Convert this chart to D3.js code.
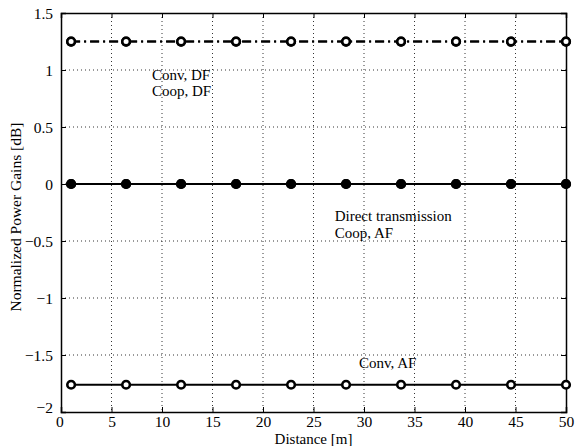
<!DOCTYPE html>
<html lang="en">
<head>
<meta charset="utf-8"/>
<title>Normalized Power Gains</title>
<script src="https://cdnjs.cloudflare.com/ajax/libs/d3/7.8.5/d3.min.js"></script>
<style>
  body { margin: 0; background: #fff; }
  svg text { font-family: "Liberation Serif", "Times New Roman", serif; fill: #000; }
  .grid line { stroke: #000; stroke-width: 0.8px; stroke-dasharray: 1,3; }
</style>
</head>
<body>
<div class="viz"></div>
<script>
// data
var distances = [1, 6.444, 11.889, 17.333, 22.778, 28.222, 33.667, 39.111, 44.556, 50];
var convDF = [1.249, 1.249, 1.249, 1.249, 1.249, 1.249, 1.249, 1.249, 1.249, 1.249];
var coopDF = [1.249, 1.249, 1.249, 1.249, 1.249, 1.249, 1.249, 1.249, 1.249, 1.249];
var direct = [0, 0, 0, 0, 0, 0, 0, 0, 0, 0];
var coopAF = [0, 0, 0, 0, 0, 0, 0, 0, 0, 0];
var convAF = [-1.761, -1.761, -1.761, -1.761, -1.761, -1.761, -1.761, -1.761, -1.761, -1.761];
var xTicks = [0, 5, 10, 15, 20, 25, 30, 35, 40, 45, 50];
var yTicks = [-2, -1.5, -1, -0.5, 0, 0.5, 1, 1.5];

var width = 575, height = 446;
var margin = {top: 13, right: 9, bottom: 34, left: 61};
var w = width - margin.left - margin.right,
    h = height - margin.top - margin.bottom;

var svg = d3.select('.viz').append('svg')
    .attr('width', width)
    .attr('height', height);

var x = d3.scaleLinear().domain([0, 50]).range([0, w]);
var y = d3.scaleLinear().domain([-2, 1.5]).range([h, 0]);

var g = svg.append('g')
    .attr('transform', 'translate(' + margin.left + ',' + margin.top + ')');

// dotted grid
var grid = g.append('g').attr('class', 'grid');
grid.selectAll('.gx').data(xTicks.slice(1, -1)).enter().append('line')
    .attr('x1', d => x(d)).attr('x2', d => x(d))
    .attr('y1', 0).attr('y2', h);
grid.selectAll('.gy').data(yTicks.slice(1, -1)).enter().append('line')
    .attr('x1', 0).attr('x2', w)
    .attr('y1', d => y(d)).attr('y2', d => y(d));

function fmt(d) { return d < 0 ? '\u2212' + Math.abs(d) : '' + d; }

// axes, ticks inward on all sides
var xAxis = g.append('g').attr('transform', 'translate(0,' + h + ')')
    .call(d3.axisBottom(x).tickValues(xTicks).tickSize(-5).tickPadding(4).tickFormat(fmt));
var xTop = g.append('g')
    .call(d3.axisTop(x).tickValues(xTicks).tickSize(-5).tickFormat(''));
var yAxis = g.append('g')
    .call(d3.axisLeft(y).tickValues(yTicks).tickSize(-5).tickPadding(8).tickFormat(fmt));
var yRight = g.append('g').attr('transform', 'translate(' + w + ',0)')
    .call(d3.axisRight(y).tickValues(yTicks).tickSize(-5).tickFormat(''));

[xAxis, xTop, yAxis, yRight].forEach(function(a) {
    a.attr('font-family', '"Liberation Serif", "Times New Roman", serif')
     .attr('font-size', 15.5);
    a.select('.domain').attr('stroke', '#000').attr('stroke-width', 1.5);
    a.selectAll('.tick line').attr('stroke', '#000').attr('stroke-width', 1);
});
yAxis.selectAll('.tick text').attr('dy', '0.33em');
// matlab style corner labels
yAxis.selectAll('.tick').filter(d => d === -2).select('text').attr('dy', '0.05em');
xAxis.selectAll('.tick').filter(d => d === 0).select('text').attr('dx', '-0.1em');

var line = d3.line().x(d => x(d[0])).y(d => y(d[1]));

var series = [
    {vals: convAF, dash: null, fill: '#fff'},
    {vals: coopAF, dash: '7,4', fill: '#000'},
    {vals: direct, dash: null, fill: '#000'},
    {vals: coopDF, dash: '9,4,2,4', fill: '#fff'},
    {vals: convDF, dash: '9,4,2,4', fill: '#fff'}
];

series.forEach(function(s) {
    var pts = distances.map((d, i) => [d, s.vals[i]]);
    g.append('path')
        .datum(pts)
        .attr('d', line)
        .attr('fill', 'none')
        .attr('stroke', '#000')
        .attr('stroke-width', 2)
        .attr('stroke-dasharray', s.dash);
    g.selectAll(null).data(pts).enter().append('circle')
        .attr('cx', d => x(d[0]))
        .attr('cy', d => y(d[1]))
        .attr('r', 3.8)
        .attr('fill', s.fill)
        .attr('stroke', '#000')
        .attr('stroke-width', 2.6);
});

// annotations
var notes = [
    {t: 'Conv, DF', xv: 9, yv: 0.915},
    {t: 'Coop, DF', xv: 9, yv: 0.775},
    {t: 'Direct transmission', xv: 27.1, yv: -0.325},
    {t: 'Coop, AF', xv: 27.1, yv: -0.47},
    {t: 'Conv, AF', xv: 29.5, yv: -1.61}
];
g.selectAll('.note').data(notes).enter().append('text')
    .attr('x', d => x(d.xv))
    .attr('y', d => y(d.yv))
    .attr('font-size', 15)
    .text(d => d.t);

// axis titles
svg.append('text')
    .attr('x', 313.5)
    .attr('y', 444)
    .attr('text-anchor', 'middle')
    .attr('font-size', 15)
    .text('Distance [m]');
svg.append('text')
    .attr('transform', 'translate(21,217) rotate(-90)')
    .attr('text-anchor', 'middle')
    .attr('font-size', 15.5)
    .text('Normalized Power Gains [dB]');
</script>
</body>
</html>
